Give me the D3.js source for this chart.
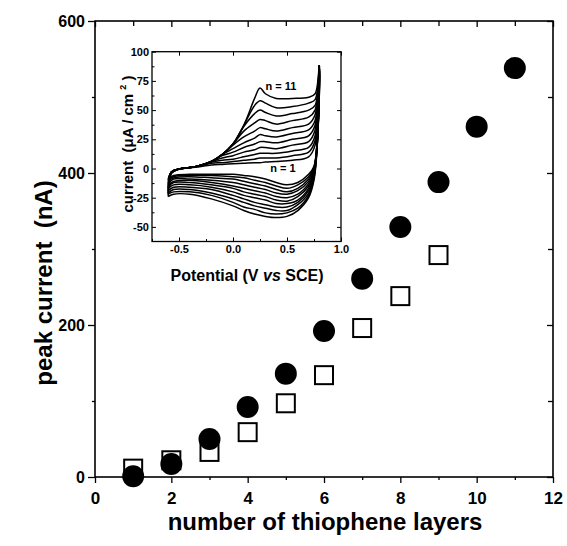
<!DOCTYPE html>
<html><head><meta charset="utf-8">
<script src="https://cdn.jsdelivr.net/npm/d3@7"></script>
<style>
body{margin:0;background:#fff}
text{font-family:"Liberation Sans",Arial,Helvetica,sans-serif;font-weight:bold;fill:#000;white-space:pre}
</style>
</head><body><svg id="c" width="567" height="546"></svg>
<script>
// ---- main chart data ----
const circleLayers = [1, 2, 3, 4, 5, 6, 7, 8, 9, 10, 11];
const circleCurrent = [1, 17, 50, 92, 136, 192, 261, 329, 388, 461, 538];
const squareLayers = [1, 2, 3, 4, 5, 6, 7, 8, 9];
const squareCurrent = [11, 22, 33, 59, 97, 134, 196, 238, 292];
const xTicks = [0, 2, 4, 6, 8, 10, 12];
const yTicks = [0, 200, 400, 600];
const xLabel = "number of thiophene layers";
const yLabel = "peak current  (nA)";

// ---- inset (cyclic voltammograms, n = 1 .. 11) ----
const cvPotentialFwd = [-0.6, -0.57, -0.5, -0.35, -0.2, -0.1, 0.0, 0.1, 0.2, 0.25, 0.3, 0.4, 0.55, 0.7, 0.76, 0.8];
const cvPotentialRev = [0.78, 0.75, 0.7, 0.6, 0.5, 0.4, 0.3, 0.2, 0.1, 0.0, -0.2, -0.4, -0.55, -0.6];
const cvForward = [
  [-9, -3, -0.5, 1, 3, 3.5, 4, 4.5, 5, 5, 5.5, 6, 7, 10, 20, 88],
  [-10, -3, -0.5, 1.5, 4.5, 5, 6, 7, 8, 9, 9, 9, 11, 14, 24, 88],
  [-11, -3, -0.5, 1.5, 5.5, 7, 8, 10, 12, 13, 13, 13, 15, 18, 28, 88],
  [-13, -3, -0.5, 1.5, 6, 9, 11, 14, 16, 18, 18, 17, 20, 23, 33, 88],
  [-14, -3, -0.5, 1.5, 6, 11, 14, 18, 21, 23, 23, 22, 25, 28, 37, 88],
  [-16, -3, -0.5, 1.5, 6, 12, 17, 22, 26, 29, 28, 27, 30, 33, 41, 88],
  [-17, -3, -0.5, 1.5, 6, 12, 20, 27, 32, 35, 34, 32, 35, 38, 46, 88],
  [-19, -4, -0.5, 1.5, 6, 12, 21, 32, 39, 42, 41, 38, 41, 44, 50, 88],
  [-21, -4, -0.5, 1.5, 6, 12, 21, 36, 47, 50, 48, 45, 47, 50, 54, 88],
  [-22, -4, -0.5, 1.5, 6, 12, 21, 37, 54, 58, 56, 52, 53, 56, 59, 88],
  [-24, -4, -0.5, 1.5, 6, 12, 21, 37, 60, 69, 64, 60, 60, 61, 64, 88]
];
const cvReverse = [
  [25, 2, -5, -12, -14, -12, -9, -7, -6, -5, -5, -5, -6, -9],
  [24, 1, -7, -14, -17, -15, -12, -10, -8, -7, -6, -6, -7, -10],
  [24, 0, -9, -17, -20, -18, -15, -13, -11, -9, -8, -7, -8, -11],
  [23, -1, -11, -19, -22, -21, -18, -16, -14, -12, -10, -9, -9, -13],
  [23, -2, -13, -22, -25, -24, -21, -19, -17, -15, -12, -10, -11, -14],
  [22, -3, -15, -24, -28, -27, -24, -22, -20, -17, -14, -12, -12, -16],
  [22, -4, -17, -27, -30, -30, -27, -25, -23, -20, -16, -14, -14, -17],
  [21, -6, -19, -29, -33, -33, -31, -29, -26, -23, -18, -16, -16, -19],
  [21, -7, -21, -31, -36, -36, -34, -32, -29, -26, -21, -18, -18, -21],
  [20, -8, -23, -34, -38, -39, -38, -35, -33, -29, -23, -20, -20, -22],
  [20, -10, -25, -36, -41, -42, -41, -39, -36, -32, -26, -22, -22, -24]
];
const insetXTicks = [-0.5, 0.0, 0.5, 1.0];
const insetYTicks = [-50, -25, 0, 25, 50, 75, 100];
const insetXLabel = ["Potential (V ", "vs", " SCE)"];
const insetYLabel = ["current  (\u03BCA / cm ", "2", " )"];
const insetNotes = [["n = 11", 0.3, 67], ["n = 1", 0.345, -3]];

const svg = d3.select("#c");

// ---- main scales ----
const x = d3.scaleLinear().domain([0, 12]).range([95, 553]);
const y = d3.scaleLinear().domain([0, 600]).range([477, 21]);

function style(g, size) {
  g.select(".domain").remove();
  g.selectAll("line").attr("stroke", "#000").attr("stroke-width", 1.3);
  g.selectAll("text").attr("font-size", size).attr("fill", "#000");
}

// frame
svg.append("rect").attr("x", x(0)).attr("y", y(600)).attr("width", x(12) - x(0)).attr("height", y(0) - y(600))
  .attr("fill", "none").attr("stroke", "#000").attr("stroke-width", 1.6);

// bottom
svg.append("g").attr("transform", `translate(0,${y(0)})`)
  .call(d3.axisBottom(x).tickValues(xTicks).tickSize(6).tickPadding(9).tickFormat(d3.format("d")))
  .call(g => style(g, "17px"));
svg.append("g").attr("transform", `translate(0,${y(0)})`)
  .call(d3.axisBottom(x).tickValues(d3.range(1, 12, 2)).tickSize(3).tickFormat(""))
  .call(g => style(g, "1px"));
// top (inward)
svg.append("g").attr("transform", `translate(0,${y(600)})`)
  .call(d3.axisTop(x).tickValues(xTicks).tickSize(-6).tickFormat(""))
  .call(g => style(g, "1px"));
svg.append("g").attr("transform", `translate(0,${y(600)})`)
  .call(d3.axisTop(x).tickValues(d3.range(1, 12, 2)).tickSize(-5).tickFormat(""))
  .call(g => style(g, "1px"));
// left
svg.append("g").attr("transform", `translate(${x(0)},0)`)
  .call(d3.axisLeft(y).tickValues(yTicks).tickSize(7).tickPadding(3).tickFormat(d3.format("d")))
  .call(g => style(g, "16px"));
svg.append("g").attr("transform", `translate(${x(0)},0)`)
  .call(d3.axisLeft(y).tickValues([100, 300, 500]).tickSize(3).tickFormat(""))
  .call(g => style(g, "1px"));
// right (inward)
svg.append("g").attr("transform", `translate(${x(12)},0)`)
  .call(d3.axisRight(y).tickValues(yTicks).tickSize(-6).tickFormat(""))
  .call(g => style(g, "1px"));
svg.append("g").attr("transform", `translate(${x(12)},0)`)
  .call(d3.axisRight(y).tickValues([100, 300, 500]).tickSize(-5).tickFormat(""))
  .call(g => style(g, "1px"));

// axis titles
svg.append("text").attr("x", 325).attr("y", 530).attr("text-anchor", "middle")
  .attr("font-size", "24px").text(xLabel);
svg.append("text").attr("transform", "translate(52,283) rotate(-90)").attr("text-anchor", "middle")
  .attr("font-size", "24px").text(yLabel);

// markers
svg.append("g").selectAll("rect").data(squareLayers).join("rect")
  .attr("x", (d) => x(d) - 9).attr("y", (d, i) => y(squareCurrent[i]) - 9)
  .attr("width", 18).attr("height", 18)
  .attr("fill", "#fff").attr("stroke", "#000").attr("stroke-width", 2);
svg.append("g").selectAll("circle").data(circleLayers).join("circle")
  .attr("cx", (d) => x(d)).attr("cy", (d, i) => y(circleCurrent[i])).attr("r", 11)
  .attr("fill", "#000");

// ---- inset ----
const ix = d3.scaleLinear().domain([-0.75, 1.0]).range([152, 341]);
const iy = d3.scaleLinear().domain([-62.5, 100]).range([241.5, 51.7]);
const inset = svg.append("g");
inset.append("rect").attr("x", ix(-0.75)).attr("y", iy(100)).attr("width", ix(1) - ix(-0.75)).attr("height", iy(-62.5) - iy(100))
  .attr("fill", "#fff").attr("stroke", "#000").attr("stroke-width", 1.3);

const ixMinor = [-0.75, -0.25, 0.25, 0.75];
const iyMinor = [-37.5, -12.5, 12.5, 37.5, 62.5, 87.5];
inset.append("g").attr("transform", `translate(0,${iy(-62.5)})`)
  .call(d3.axisBottom(ix).tickValues(insetXTicks).tickSizeInner(-4).tickSizeOuter(0).tickPadding(4).tickFormat(d3.format(".1f")))
  .call(g => style(g, "11px"));
inset.append("g").attr("transform", `translate(0,${iy(-62.5)})`)
  .call(d3.axisBottom(ix).tickValues(ixMinor).tickSizeInner(-2.5).tickSizeOuter(0).tickFormat(""))
  .call(g => style(g, "1px"));
inset.append("g").attr("transform", `translate(0,${iy(100)})`)
  .call(d3.axisTop(ix).tickValues(insetXTicks).tickSizeInner(-4).tickSizeOuter(0).tickFormat(""))
  .call(g => style(g, "1px"));
inset.append("g").attr("transform", `translate(${ix(-0.75)},0)`)
  .call(d3.axisLeft(iy).tickValues(insetYTicks).tickSizeInner(-4).tickSizeOuter(0).tickPadding(3).tickFormat(d3.format("d")))
  .call(g => style(g, "11px"));
inset.append("g").attr("transform", `translate(${ix(-0.75)},0)`)
  .call(d3.axisLeft(iy).tickValues(iyMinor).tickSizeInner(-2.5).tickSizeOuter(0).tickFormat(""))
  .call(g => style(g, "1px"));
inset.append("g").attr("transform", `translate(${ix(1)},0)`)
  .call(d3.axisRight(iy).tickValues(insetYTicks).tickSizeInner(-4).tickSizeOuter(0).tickFormat(""))
  .call(g => style(g, "1px"));
inset.selectAll("line").attr("stroke-width", 1);
// use ASCII hyphen for negatives, as in the original
inset.selectAll(".tick text").text(function () { return this.textContent.replace("\u2212", "-"); });

// CV curves
const line = d3.line().x(d => ix(d[0])).y(d => iy(d[1])).curve(d3.curveCatmullRom.alpha(0.5));
const cycles = cvForward.map((fw, k) =>
  cvPotentialFwd.map((e, j) => [e, fw[j]]).concat(cvPotentialRev.map((e, j) => [e, cvReverse[k][j]])));
inset.append("g").selectAll("path").data(cycles).join("path")
  .attr("d", line).attr("fill", "none").attr("stroke", "#000").attr("stroke-width", 1.5)
  .attr("stroke-linejoin", "round");

// notes
inset.selectAll("text.note").data(insetNotes).join("text").attr("class", "note")
  .attr("x", d => ix(d[1])).attr("y", d => iy(d[2])).attr("font-size", "11px").text(d => d[0]);

// inset titles
const xt = inset.append("text").attr("x", 247).attr("y", 281).attr("text-anchor", "middle").attr("font-size", "16px");
xt.append("tspan").text(insetXLabel[0]);
xt.append("tspan").attr("font-style", "italic").text(insetXLabel[1]);
xt.append("tspan").text(insetXLabel[2]);
const yt = inset.append("text").attr("transform", "translate(133,144) rotate(-90)").attr("text-anchor", "middle").attr("font-size", "15px");
yt.append("tspan").text(insetYLabel[0]);
yt.append("tspan").attr("font-size", "9px").attr("dy", "-7").text(insetYLabel[1]);
yt.append("tspan").attr("dy", "7").text(insetYLabel[2]);
</script></body></html>
